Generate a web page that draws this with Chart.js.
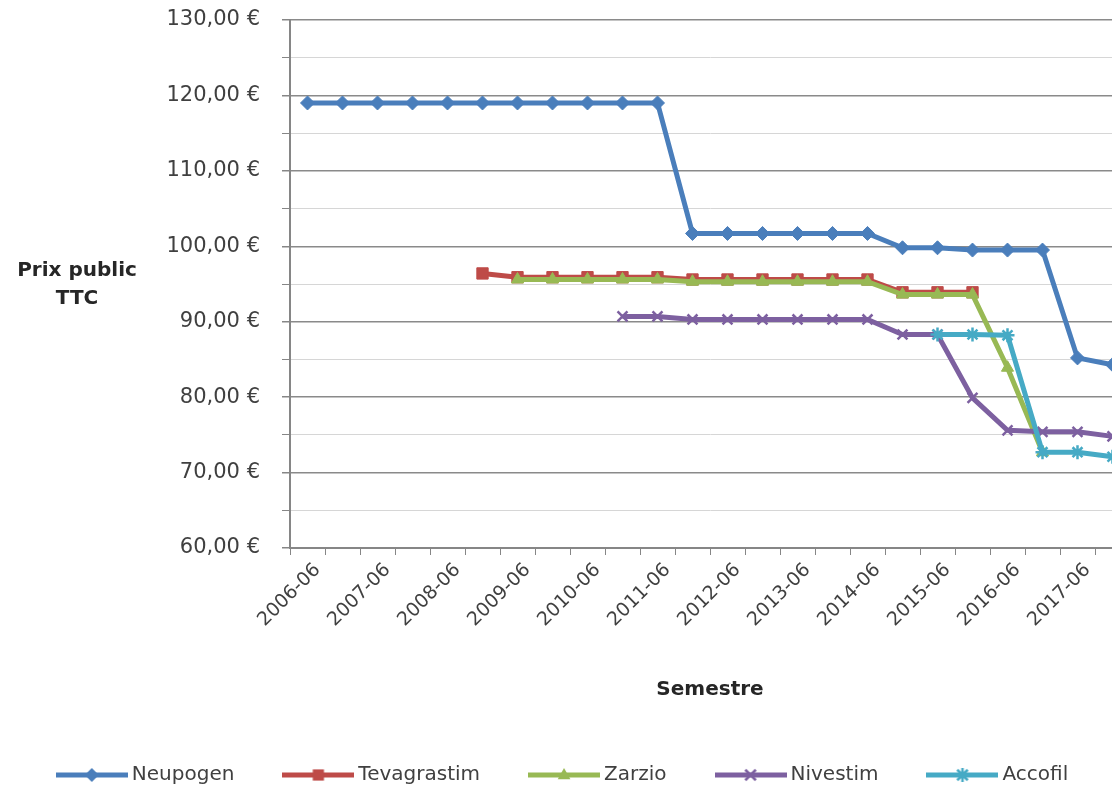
<!DOCTYPE html>
<html>
<head>
<meta charset="utf-8">
<script src="https://cdn.jsdelivr.net/npm/chart.js@4.4.1/dist/chart.umd.min.js"></script>
<style>
  html, body { margin: 0; padding: 0; background: #fff; overflow: hidden; }
  #wrap { width: 1112px; height: 795px; overflow: hidden; }
</style>
</head>
<body>
<div id="wrap"><canvas id="prix-graph" width="1140" height="795"></canvas></div>
<script>
const semestres = [
  '2006-06', '2006-12', '2007-06', '2007-12', '2008-06', '2008-12',
  '2009-06', '2009-12', '2010-06', '2010-12', '2011-06', '2011-12',
  '2012-06', '2012-12', '2013-06', '2013-12', '2014-06', '2014-12',
  '2015-06', '2015-12', '2016-06', '2016-12', '2017-06', '2017-12'
];

const neupogen = [
  119.0, 119.0, 119.0, 119.0, 119.0, 119.0, 119.0, 119.0, 119.0, 119.0, 119.0,
  101.7, 101.7, 101.7, 101.7, 101.7, 101.7,
  99.8, 99.8, 99.5, 99.5, 99.5, 85.2, 84.3
];
const tevagrastim = [
  null, null, null, null, null, 96.4,
  95.9, 95.9, 95.9, 95.9, 95.9,
  95.6, 95.6, 95.6, 95.6, 95.6, 95.6,
  93.9, 93.9, 93.9, null, null, null, null
];
const zarzio = [
  null, null, null, null, null, null,
  95.6, 95.6, 95.6, 95.6, 95.6,
  95.3, 95.3, 95.3, 95.3, 95.3, 95.3,
  93.6, 93.6, 93.6, 83.9, 72.7, null, null
];
const nivestim = [
  null, null, null, null, null, null, null, null, null, 90.7, 90.7,
  90.3, 90.3, 90.3, 90.3, 90.3, 90.3,
  88.3, 88.3, 79.9, 75.6, 75.4, 75.4, 74.8
];
const accofil = [
  null, null, null, null, null, null, null, null, null, null, null, null,
  null, null, null, null, null, null, 88.3, 88.3, 88.2, 72.7, 72.7, 72.1
];

const couleurs = ['#4A7EBB', '#BE4B48', '#98B954', '#7D60A0', '#46AAC5'];
const marqueurs = ['rectRot', 'rect', 'triangle', 'crossRot', 'star'];
const noms = ['Neupogen', 'Tevagrastim', 'Zarzio', 'Nivestim', 'Accofil'];
const series = [neupogen, tevagrastim, zarzio, nivestim, accofil];

// small line + marker picture for the legend, like Excel
function drawMark(g, style, x, y, r) {
  g.beginPath();
  if (style === 'rectRot') {
    g.moveTo(x, y - r); g.lineTo(x + r, y); g.lineTo(x, y + r); g.lineTo(x - r, y);
    g.closePath(); g.fill();
  } else if (style === 'rect') {
    g.rect(x - r * 0.8, y - r * 0.8, r * 1.6, r * 1.6); g.fill();
  } else if (style === 'triangle') {
    g.moveTo(x, y - r); g.lineTo(x + r * 0.9, y + r * 0.6); g.lineTo(x - r * 0.9, y + r * 0.6);
    g.closePath(); g.fill();
  } else {
    g.lineWidth = 2.5;
    g.moveTo(x - r * 0.75, y - r * 0.75); g.lineTo(x + r * 0.75, y + r * 0.75);
    g.moveTo(x + r * 0.75, y - r * 0.75); g.lineTo(x - r * 0.75, y + r * 0.75);
    if (style === 'star') { g.moveTo(x, y - r); g.lineTo(x, y + r); }
    g.stroke();
  }
}
function legendImage(color, style) {
  const c = document.createElement('canvas');
  c.width = 72; c.height = 22;
  const g = c.getContext('2d');
  g.strokeStyle = color; g.fillStyle = color;
  g.lineWidth = 5;
  g.beginPath(); g.moveTo(0, 11); g.lineTo(72, 11); g.stroke();
  drawMark(g, style, 36, 11, 7);
  return c;
}
const legendImgs = couleurs.map((c, i) => legendImage(c, marqueurs[i]));

// horizontal y axis title, as in the original
const yTitle = {
  id: 'yTitle',
  afterDraw(chart) {
    const ctx = chart.ctx;
    ctx.save();
    ctx.font = 'bold 20px "DejaVu Sans"';
    ctx.fillStyle = '#262626';
    ctx.textAlign = 'center';
    ctx.textBaseline = 'middle';
    ctx.fillText('Prix public', 77, 271);
    ctx.fillText('TTC', 77, 299);
    ctx.restore();
  }
};

const datasets = series.map((d, i) => ({
  label: noms[i],
  data: d,
  borderColor: couleurs[i],
  backgroundColor: couleurs[i],
  borderWidth: 5,
  pointStyle: marqueurs[i],
  pointRadius: i === 1 ? 8 : 7,
  pointBorderWidth: (i === 3 || i === 4) ? 2.5 : 1,
  pointBackgroundColor: couleurs[i],
  tension: 0,
  order: 5 - i
}));

const ctx = document.getElementById('prix-graph').getContext('2d');
new Chart(ctx, {
  type: 'line',
  data: { labels: semestres, datasets: datasets },
  plugins: [yTitle],
  options: {
    responsive: false,
    animation: false,
    layout: { padding: { top: 20, right: 10, left: 0, bottom: 0 } },
    plugins: {
      tooltip: { enabled: false },
      legend: {
        position: 'bottom',
        labels: {
          usePointStyle: true,
          pointStyleWidth: 60,
          padding: 54,
          color: '#404040',
          font: { family: 'DejaVu Sans', size: 20 },
          generateLabels: (chart) => chart.data.datasets.map((ds, i) => ({
            text: ds.label,
            fillStyle: ds.borderColor,
            strokeStyle: ds.borderColor,
            lineWidth: 0,
            pointStyle: legendImgs[i],
            hidden: false,
            datasetIndex: i,
            fontColor: '#404040'
          }))
        }
      }
    },
    scales: {
      x: {
        offset: true,
        border: { display: true, color: '#868686', width: 2 },
        grid: { display: true, drawOnChartArea: false, drawTicks: true, tickLength: 7, color: '#868686', offset: true },
        ticks: {
          autoSkip: false,
          minRotation: 45,
          maxRotation: 45,
          padding: 4,
          labelOffset: 10,
          color: '#404040',
          font: { family: 'DejaVu Sans', size: 19 },
          callback: (v, i) => (i % 2 === 0 ? semestres[i] : '')
        },
        title: {
          display: true,
          text: 'Semestre',
          color: '#262626',
          font: { family: 'DejaVu Sans', size: 20, weight: 'bold' },
          padding: { top: 0, bottom: 9 }
        },
        afterFit: (scale) => { scale.height = 163; }
      },
      y: {
        min: 60,
        max: 130,
        border: { display: true, color: '#868686', width: 2 },
        grid: {
          color: (c) => (c.tick.value % 10 === 0 ? '#8a8a8a' : '#d6d6d6'),
          lineWidth: (c) => (c.tick.value % 10 === 0 ? 1.5 : 1),
          tickColor: '#868686',
          tickLength: 8
        },
        ticks: {
          stepSize: 5,
          padding: 22,
          color: '#404040',
          font: { family: 'DejaVu Sans', size: 21 },
          callback: (v) => (v % 10 === 0 ? v.toFixed(2).replace('.', ',') + ' €' : '')
        },
        afterFit: (scale) => {
          scale.width = 290;
          scale.paddingTop = 0;
          scale.paddingBottom = 0;
        }
      }
    }
  }
});
</script>
</body>
</html>
